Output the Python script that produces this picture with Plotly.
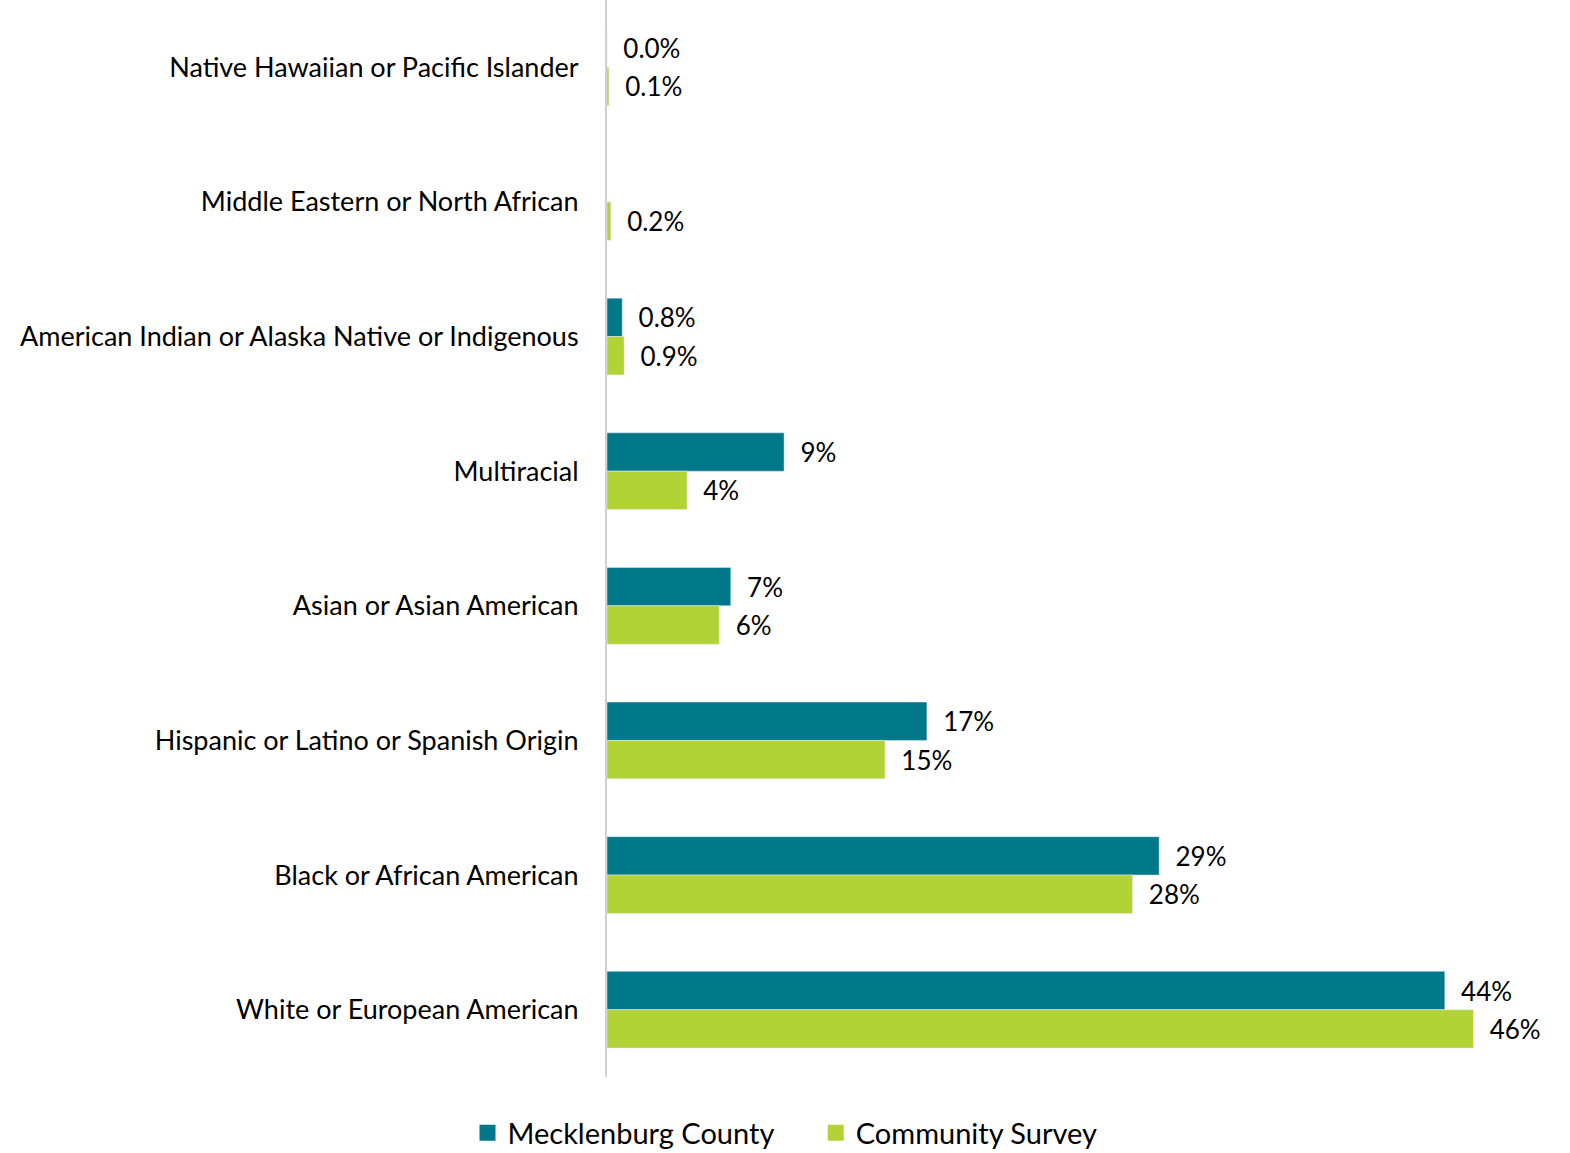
import plotly.graph_objects as go

categories = [
    "Native Hawaiian or Pacific Islander",
    "Middle Eastern or North African",
    "American Indian or Alaska Native or Indigenous",
    "Multiracial",
    "Asian or Asian American",
    "Hispanic or Latino or Spanish Origin",
    "Black or African American",
    "White or European American",
]
county = [0.0, None, 0.8, 9.3, 6.5, 16.8, 29.0, 44.0]
county_labels = ["0.0%", "", "0.8%", "9%", "7%", "17%", "29%", "44%"]
survey = [0.1, 0.2, 0.9, 4.2, 5.9, 14.6, 27.6, 45.5]
survey_labels = ["0.1%", "0.2%", "0.9%", "4%", "6%", "15%", "28%", "46%"]

TEAL = "#00788A"
LIME = "#B2D235"
FONT = "Lato"
pad = "\u00a0\u00a0"

fig = go.Figure()
fig.add_trace(go.Bar(
    y=categories, x=county, orientation="h", name="Mecklenburg County",
    marker_color=TEAL, text=[pad + t if t else "" for t in county_labels],
    textposition="outside", textfont=dict(size=26, color="black", family=FONT),
    cliponaxis=False, showlegend=False,
))
fig.add_trace(go.Bar(
    y=categories, x=survey, orientation="h", name="Community Survey",
    marker_color=LIME, text=[pad + t for t in survey_labels],
    textposition="outside", textfont=dict(size=26, color="black", family=FONT),
    cliponaxis=False, showlegend=False,
))
# legend entries with larger square swatches
legend_items = [("Mecklenburg County" + "\u00a0" * 5, TEAL), ("Community Survey", LIME)]
for name, col in legend_items:
    fig.add_trace(go.Scatter(
        x=[None], y=[categories[0]], mode="markers", name=name,
        marker=dict(symbol="square", size=18, color=col),
    ))

fig.update_layout(
    width=1570, height=1153,
    barmode="group", bargap=0.43, bargroupgap=0,
    plot_bgcolor="white", paper_bgcolor="white",
    font=dict(family=FONT, size=27, color="black"),
    margin=dict(l=607, r=30, t=0, b=76, autoexpand=False),
    legend=dict(orientation="h", xref="container", x=0.5, xanchor="center",
                y=-0.052, yanchor="middle",
                font=dict(size=29, family=FONT), itemsizing="trace",
                itemwidth=30, tracegroupgap=0),
    showlegend=True,
)
fig.update_xaxes(range=[0, 49], showgrid=False, showticklabels=False, zeroline=False,
                 showline=False, automargin=False)
fig.update_yaxes(autorange="reversed", showgrid=False, showline=True, linecolor="#D0D0D0",
                 linewidth=2, ticks="", ticklabelstandoff=21, automargin=False)

fig.write_html("out.html", config={"displayModeBar": False},
               post_script="document.body.style.margin='0';")
